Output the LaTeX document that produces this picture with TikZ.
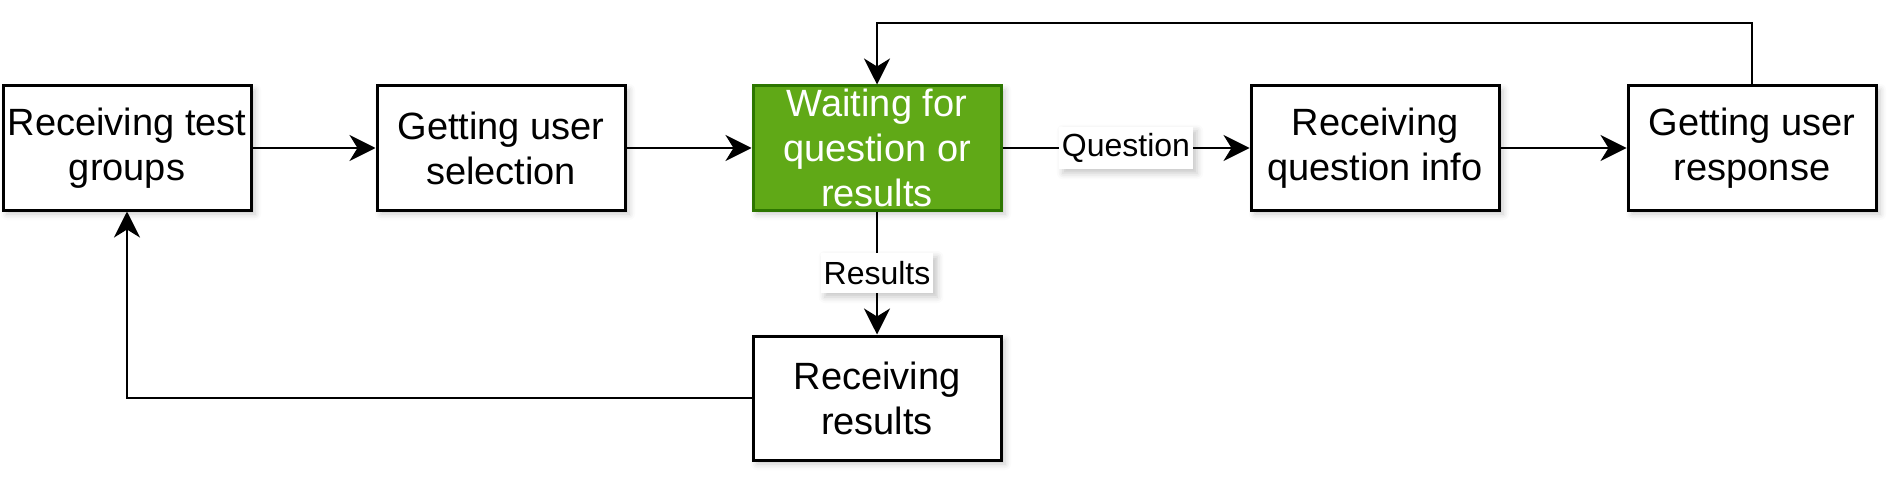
\documentclass[tikz,border=0pt]{standalone}
\usepackage{fontspec}
\setmainfont{Liberation Sans}
\usepackage{tikz}
\usetikzlibrary{arrows.meta,positioning,shadows.blur}
\definecolor{stateGreen}{RGB}{96,169,23}
\definecolor{stateGreenLine}{RGB}{45,118,0}

\begin{document}
\begin{tikzpicture}[
  x=0.5pt,y=-0.5pt,
  every node/.style={font=\fontsize{19}{22.5}\selectfont},
  state/.style={draw=black,fill=white,line width=1.5pt,minimum width=124pt,minimum height=62pt,
    align=center,inner sep=0pt,
    blur shadow={shadow xshift=2pt,shadow yshift=-2pt,shadow blur radius=3pt,shadow opacity=22}},
  active/.style={state,draw=stateGreenLine,fill=stateGreen,text=white},
  flow/.style={-{Stealth[length=13pt,width=13pt,inset=4pt]},line width=1.2pt},
  elabel/.style={font=\fontsize{16}{18}\selectfont,fill=white,inner xsep=1.5pt,minimum height=20pt,
    blur shadow={shadow xshift=2pt,shadow yshift=-2pt,shadow blur radius=3pt,shadow opacity=22}}
]
  \useasboundingbox (0,0) rectangle (1896,481);

  \node[state] (groups) at (127,148) {Receiving test\\groups};
  \node[state] (select) at (501,148) {Getting user\\selection};
  \node[active] (wait) at (877,148) {Waiting for\\question or\\results};
  \node[state] (qinfo) at (1375,148) {Receiving\\question info};
  \node[state] (resp) at (1752,148) {Getting user\\response};
  \node[state] (results) at (877,398) {Receiving\\results};

  \coordinate (loop) at (0,23);

  \draw[flow] (groups) -- (select);
  \draw[flow] (select) -- (wait);
  \draw[flow] (wait) -- node[elabel] {Question} (qinfo);
  \draw[flow] (qinfo) -- (resp);
  \draw[flow] (resp.north) -- (resp.north |- loop) -| (wait.north);
  \draw[flow] (wait) -- node[elabel] {Results} (results);
  \draw[flow] (results.west) -| (groups.south);
\end{tikzpicture}
\end{document}
